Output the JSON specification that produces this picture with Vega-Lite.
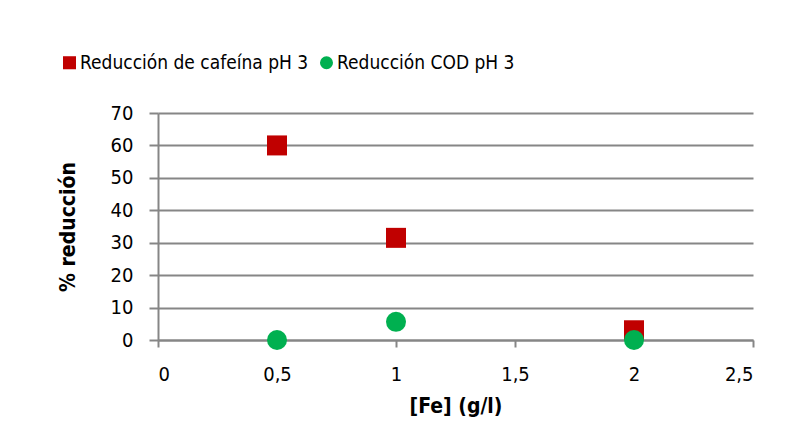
{
  "$schema": "https://vega.github.io/schema/vega-lite/v6.json",
  "width": 595,
  "height": 227,
  "autosize": {"type": "none"},
  "padding": {"left": 158, "top": 113, "right": 50, "bottom": 88},
  "background": "white",
  "data": {
    "values": [
      {"fe": 0.5, "reduccion": 60, "serie": "Reducción de cafeína pH 3"},
      {"fe": 1, "reduccion": 31.5, "serie": "Reducción de cafeína pH 3"},
      {"fe": 2, "reduccion": 3, "serie": "Reducción de cafeína pH 3"},
      {"fe": 0.5, "reduccion": 0, "serie": "Reducción COD pH 3"},
      {"fe": 1, "reduccion": 5.6, "serie": "Reducción COD pH 3"},
      {"fe": 2, "reduccion": 0, "serie": "Reducción COD pH 3"}
    ]
  },
  "mark": {"type": "point", "filled": true, "opacity": 1, "size": 400, "clip": false},
  "encoding": {
    "x": {
      "field": "fe",
      "type": "quantitative",
      "scale": {"domain": [0, 2.5], "nice": false, "zero": true},
      "axis": {
        "title": "[Fe] (g/l)",
        "values": [0, 0.5, 1, 1.5, 2, 2.5],
        "labelExpr": "replace(format(datum.value, '~g'), '.', ',')",
        "grid": false,
        "domain": true,
        "domainColor": "#868686",
        "domainWidth": 2,
        "ticks": true,
        "tickColor": "#868686",
        "tickWidth": 2,
        "tickSize": 7,
        "labelPadding": 17,
        "titlePadding": 11
      }
    },
    "y": {
      "field": "reduccion",
      "type": "quantitative",
      "scale": {"domain": [0, 70], "nice": false},
      "axis": {
        "title": "%  reducción",
        "values": [0, 10, 20, 30, 40, 50, 60, 70],
        "grid": true,
        "gridColor": "#868686",
        "gridWidth": 2,
        "domain": true,
        "domainColor": "#868686",
        "domainWidth": 2,
        "ticks": true,
        "tickColor": "#868686",
        "tickWidth": 2,
        "tickSize": 9,
        "labelPadding": 16,
        "titlePadding": 32
      }
    },
    "color": {
      "field": "serie",
      "type": "nominal",
      "scale": {
        "domain": ["Reducción de cafeína pH 3", "Reducción COD pH 3"],
        "range": ["#C00000", "#00B050"]
      },
      "legend": {
        "orient": "none",
        "legendX": -98,
        "legendY": -60,
        "direction": "horizontal",
        "title": null,
        "symbolSize": 170,
        "symbolOpacity": 1,
        "labelFontSize": 19,
        "labelFont": "DejaVu Sans Condensed",
        "labelColor": "#000000",
        "labelOffset": 1,
        "labelLimit": 400,
        "columnPadding": 8
      }
    },
    "shape": {
      "field": "serie",
      "type": "nominal",
      "scale": {
        "domain": ["Reducción de cafeína pH 3", "Reducción COD pH 3"],
        "range": ["square", "circle"]
      },
      "legend": null
    }
  },
  "config": {
    "view": {"stroke": null},
    "axis": {
      "labelFont": "DejaVu Sans Condensed",
      "labelFontSize": 20,
      "labelColor": "#000000",
      "titleFont": "DejaVu Sans Condensed",
      "titleFontSize": 21,
      "titleFontWeight": "bold",
      "titleColor": "#000000"
    }
  }
}
